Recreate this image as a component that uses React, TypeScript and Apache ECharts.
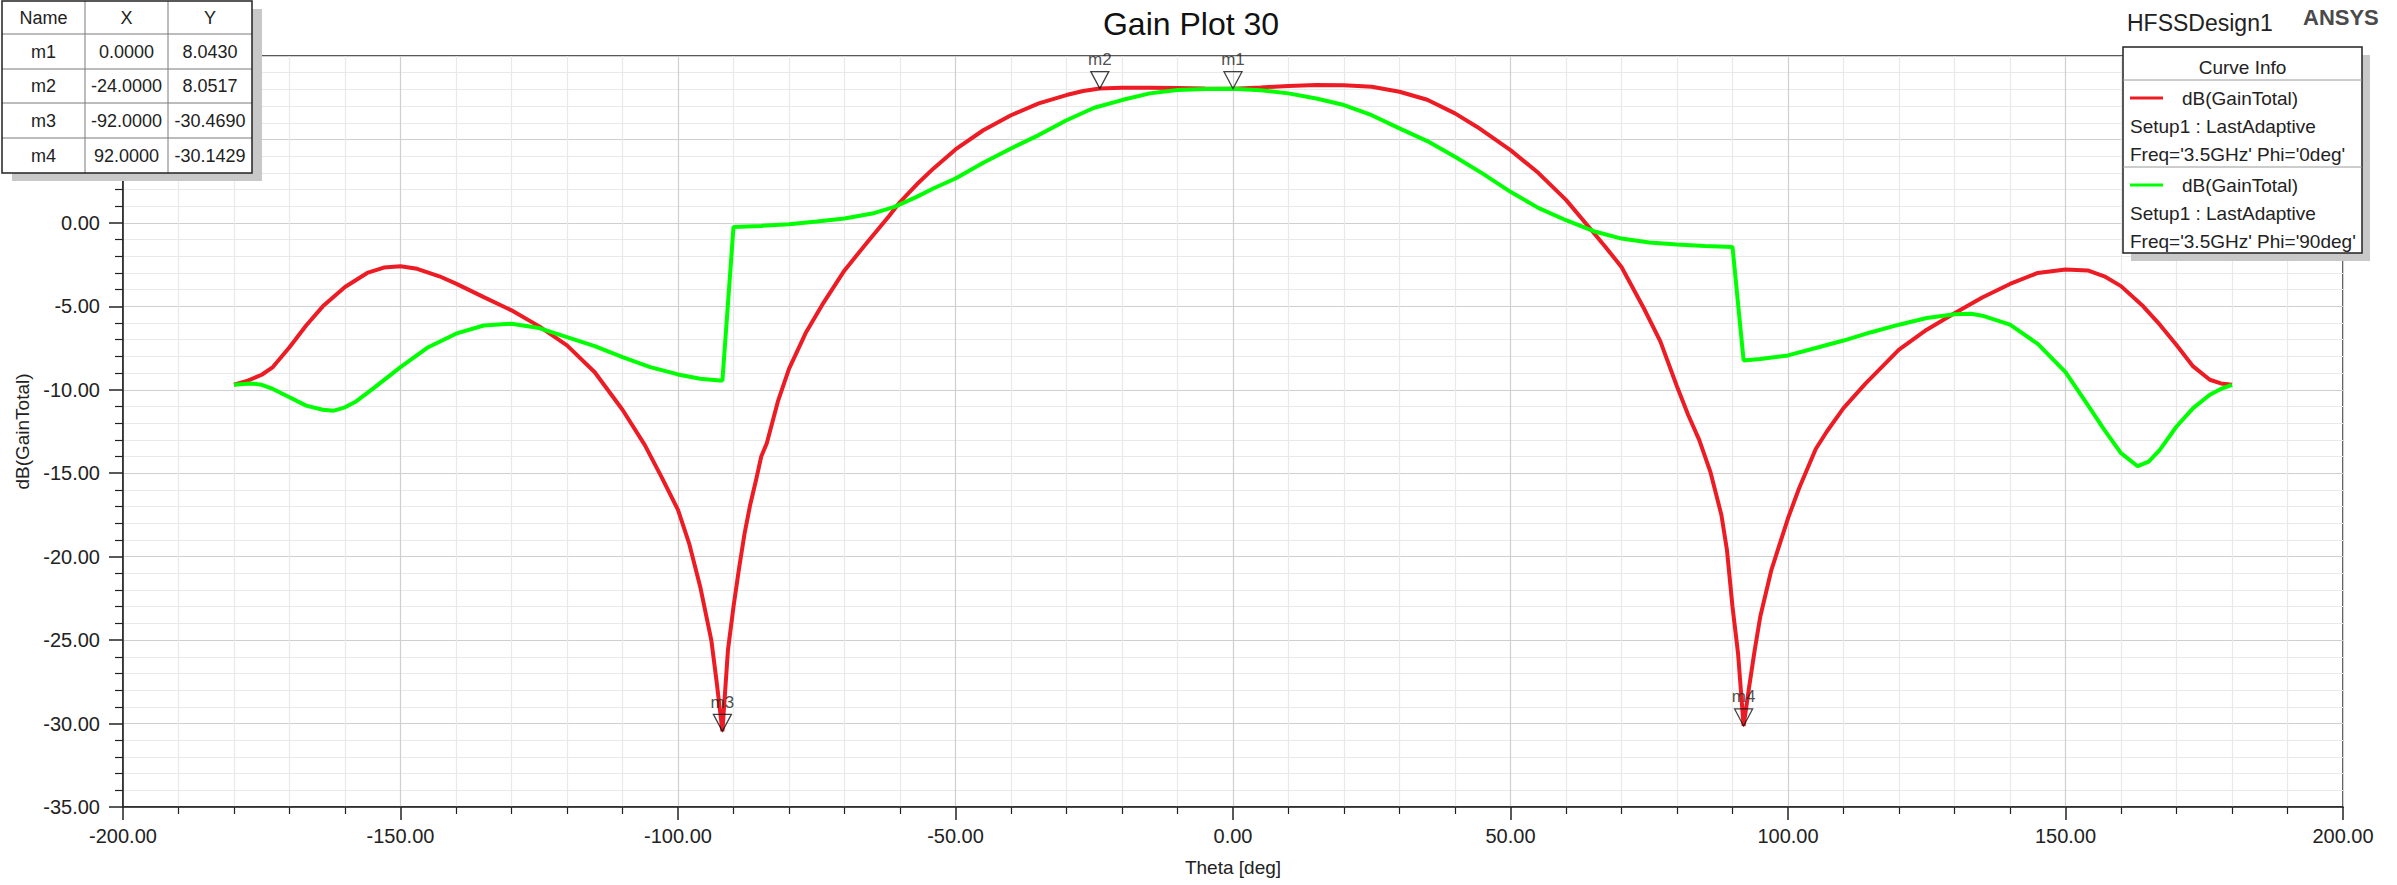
import { useEffect, useRef } from "react";
import * as echarts from "echarts";

const FONT = '"Liberation Sans", Arial, Helvetica, sans-serif';

// Phi = 0deg curve (red)
const phi0Theta = [
  -180, -177.5, -175, -173, -170, -167, -164, -160, -156, -153, -150, -147, -143, -140, -135, -130,
  -125, -120, -115, -110, -106, -103, -100, -98, -96, -94, -93, -92, -91, -90, -89, -88, -87, -86,
  -85, -84, -82, -80, -77, -74, -70, -66, -62, -60, -57, -54, -50, -45, -40, -35, -30, -27, -24,
  -20, -15, -10, -5, 0, 5, 10, 15, 20, 25, 30, 35, 40, 44, 50, 55, 60, 64, 67, 70, 74, 77, 80, 82,
  84, 86, 88, 89, 90, 91, 92, 93, 94, 95, 97, 100, 102, 105, 107, 110, 114, 120, 125, 130, 135,
  140, 145, 150, 154, 157, 160, 164, 167, 170, 173, 176, 178, 180,
];
const phi0Gain = [
  -9.7, -9.45, -9.1, -8.64, -7.45, -6.15, -5.0, -3.84, -3.0, -2.68, -2.6, -2.75, -3.2, -3.64, -4.45,
  -5.24, -6.2, -7.34, -8.95, -11.2, -13.3, -15.2, -17.2, -19.2, -21.8, -25.0, -27.6, -30.469, -25.6,
  -23.0, -20.7, -18.6, -16.9, -15.5, -14.0, -13.2, -10.7, -8.75, -6.6, -4.9, -2.85, -1.2, 0.4, 1.25,
  2.3, 3.25, 4.4, 5.55, 6.45, 7.16, 7.66, 7.9, 8.0517, 8.1, 8.1, 8.08, 8.05, 8.043, 8.12, 8.2, 8.26,
  8.24, 8.16, 7.86, 7.38, 6.56, 5.75, 4.36, 3.0, 1.38, -0.2, -1.4, -2.64, -5.1, -7.1, -9.8, -11.5,
  -13.0, -14.9, -17.5, -19.6, -23.0, -25.8, -30.1429, -27.8, -25.6, -23.6, -20.8, -17.7, -15.9,
  -13.55, -12.5, -11.1, -9.62, -7.59, -6.4, -5.42, -4.47, -3.66, -3.0, -2.79, -2.85, -3.2, -3.79,
  -5.0, -6.1, -7.32, -8.6, -9.4, -9.62, -9.7,
];

// Phi = 90deg curve (green)
const phi90Theta = [
  -180, -177, -175, -173, -170, -167, -164, -162, -160, -158, -155, -150, -145, -140, -135, -130,
  -125, -120, -115, -110, -105, -100, -96, -92.5, -92, -90, -85, -80, -75, -70, -65, -61, -57, -54,
  -50, -45, -40, -35, -30, -25, -20, -15, -10, -5, 0, 5, 10, 15, 20, 25, 30, 35, 40, 45, 50, 55, 60,
  65, 70, 75, 80, 85, 90, 92, 95, 100, 105, 110, 115, 120, 125, 130, 133, 135, 140, 145, 150, 154,
  157, 160, 163, 165, 167, 170, 173, 176, 178, 180,
];
const phi90Gain = [
  -9.7, -9.62, -9.7, -9.95, -10.45, -10.95, -11.2, -11.25, -11.05, -10.7, -9.95, -8.64, -7.45, -6.64,
  -6.15, -6.04, -6.3, -6.84, -7.38, -8.04, -8.64, -9.08, -9.34, -9.45, -9.45, -0.24, -0.18, -0.08,
  0.08, 0.26, 0.56, 0.96, 1.56, 2.06, 2.66, 3.6, 4.46, 5.26, 6.15, 6.9, 7.36, 7.76, 7.96, 8.02, 8.043,
  7.95, 7.76, 7.45, 7.06, 6.45, 5.66, 4.9, 3.96, 2.95, 1.86, 0.9, 0.16, -0.5, -0.94, -1.18, -1.3,
  -1.38, -1.44, -8.24, -8.15, -7.94, -7.5, -7.05, -6.55, -6.1, -5.7, -5.47, -5.45, -5.56, -6.1, -7.25,
  -8.94, -10.9, -12.4, -13.8, -14.58, -14.3, -13.6, -12.2, -11.1, -10.3, -9.95, -9.7,
];

const markerNames = ["m1", "m2", "m3", "m4"];
const markerTheta = [0, -24, -92, 92];
const markerGain = [8.043, 8.0517, -30.469, -30.1429];

const tableHeader = ["Name", "X", "Y"];
const titleText = "Gain Plot 30";
const designText = "HFSSDesign1";
const brandText = "ANSYS";
const curveInfoTitle = "Curve Info";
const curveNames = ["dB(GainTotal)", "dB(GainTotal)"];
const curveSetups = ["Setup1 : LastAdaptive", "Setup1 : LastAdaptive"];
const curveParams = ["Freq='3.5GHz' Phi='0deg'", "Freq='3.5GHz' Phi='90deg'"];
const curveColors = ["#ed1c24", "#00ff00"];

const zip = (a: number[], b: number[]) => a.map((v, i) => [v, b[i]]);

function txt(x: number, y: number, text: string, size: number, align: string, opts: any = {}) {
  return {
    type: "text",
    x,
    y,
    z: 100,
    silent: true,
    style: {
      text,
      font: `${opts.weight || "normal"} ${size}px ${FONT}`,
      fill: opts.fill || "#222",
      align,
      verticalAlign: "middle",
      textAlign: align,
      textVerticalAlign: "middle",
    },
  };
}
function rect(x: number, y: number, w: number, h: number, fill: string, stroke?: string, lw = 1.5) {
  return {
    type: "rect",
    z: 100,
    silent: true,
    shape: { x, y, width: w, height: h },
    style: { fill, stroke: stroke || null, lineWidth: lw },
  };
}
function seg(x1: number, y1: number, x2: number, y2: number, stroke: string, lw: number) {
  return {
    type: "line",
    z: 100,
    silent: true,
    shape: { x1, y1, x2, y2 },
    style: { stroke, lineWidth: lw },
  };
}

export default function App() {
  const ref = useRef<HTMLDivElement>(null);
  useEffect(() => {
    document.body.style.margin = "0";
    document.body.style.overflow = "hidden";
    const chart = echarts.init(ref.current!, null, { renderer: "svg" });

    const graphics: any[] = [];
    graphics.push(txt(1191, 24, titleText, 32, "center", { fill: "#111" }));
    graphics.push(txt(2127, 23, designText, 23, "left", { fill: "#222" }));
    graphics.push(txt(2303, 17, brandText, 22, "left", { fill: "#4a4a4a", weight: "bold" }));

    // marker table
    const colX = [2, 85, 168, 252];
    const rowY = [1, 34, 69, 103, 138, 173];
    graphics.push(rect(12, 9, 250, 172, "#c8c8c8"));
    graphics.push(rect(colX[0], rowY[0], colX[3] - colX[0], rowY[5] - rowY[0], "#ffffff"));
    for (let i = 1; i < 3; i++) graphics.push(seg(colX[i], rowY[0], colX[i], rowY[5], "#7a7a7a", 1));
    for (let j = 1; j < 5; j++) graphics.push(seg(colX[0], rowY[j], colX[3], rowY[j], "#7a7a7a", 1));
    graphics.push(rect(colX[0], rowY[0], colX[3] - colX[0], rowY[5] - rowY[0], "none", "#222", 1.5));
    const cellCenter = (c: number) => (colX[c] + colX[c + 1]) / 2;
    const rowCenter = (r: number) => (rowY[r] + rowY[r + 1]) / 2;
    tableHeader.forEach((h, c) => graphics.push(txt(cellCenter(c), rowCenter(0), h, 18, "center")));
    markerNames.forEach((n, i) => {
      graphics.push(txt(cellCenter(0), rowCenter(i + 1), n, 18, "center"));
      graphics.push(txt(cellCenter(1), rowCenter(i + 1), markerTheta[i].toFixed(4), 18, "center"));
      graphics.push(txt(cellCenter(2), rowCenter(i + 1), markerGain[i].toFixed(4), 18, "center"));
    });

    // curve info box
    const bx = 2123, by = 47, bw = 239, bh = 206;
    graphics.push(rect(bx + 8, by + 8, bw, bh, "#c8c8c8"));
    graphics.push(rect(bx, by, bw, bh, "#ffffff", "#222", 1.5));
    graphics.push(txt(bx + bw / 2, 67, curveInfoTitle, 19, "center"));
    graphics.push(seg(bx, 80, bx + bw, 80, "#9a9a9a", 1));
    graphics.push(seg(bx, 167, bx + bw, 167, "#9a9a9a", 1));
    const blockTop = [98, 185];
    curveNames.forEach((nm, i) => {
      const y0 = blockTop[i];
      graphics.push(seg(2130, y0, 2163, y0, curveColors[i], 3));
      graphics.push(txt(2182, y0, nm, 19, "left"));
      graphics.push(txt(2130, y0 + 28, curveSetups[i], 19, "left"));
      graphics.push(txt(2130, y0 + 56, curveParams[i], 19, "left"));
    });

    const option: any = {
      animation: false,
      backgroundColor: "#ffffff",
      textStyle: { fontFamily: FONT },
      grid: {
        left: 123,
        top: 56,
        width: 2220,
        height: 751,
        show: true,
        borderColor: "#222",
        borderWidth: 1.5,
        containLabel: false,
      },
      xAxis: {
        type: "value",
        min: -200,
        max: 200,
        interval: 50,
        name: "Theta [deg]",
        nameLocation: "middle",
        nameGap: 51,
        nameTextStyle: { fontSize: 19, color: "#222", fontFamily: FONT },
        axisLine: { show: true, onZero: false, lineStyle: { color: "#222", width: 1.5 } },
        axisTick: { show: true, inside: false, length: 13, lineStyle: { color: "#222", width: 1.5 } },
        minorTick: { show: true, splitNumber: 5, length: 7, lineStyle: { color: "#222", width: 1.2 } },
        axisLabel: {
          formatter: (v: number) => v.toFixed(2),
          fontSize: 20,
          color: "#222",
          margin: 19,
          fontFamily: FONT,
        },
        splitLine: { show: true, lineStyle: { color: "#cfcfcf", width: 1.2 } },
        minorSplitLine: { show: true, lineStyle: { color: "#e9e9e9", width: 1.2 } },
      },
      yAxis: {
        type: "value",
        min: -35,
        max: 10,
        interval: 5,
        name: "dB(GainTotal)",
        nameLocation: "middle",
        nameRotate: 90,
        nameGap: 90,
        nameTextStyle: { fontSize: 19, color: "#222", fontFamily: FONT },
        axisLine: { show: true, onZero: false, lineStyle: { color: "#222", width: 1.5 } },
        axisTick: { show: true, inside: false, length: 14, lineStyle: { color: "#222", width: 1.5 } },
        minorTick: { show: true, splitNumber: 5, length: 8, lineStyle: { color: "#222", width: 1.2 } },
        axisLabel: {
          // labels above 0 sit under the marker table in the reference
          formatter: (v: number) => (v > 0 ? "" : v.toFixed(2)),
          fontSize: 20,
          color: "#222",
          margin: 23,
          fontFamily: FONT,
        },
        splitLine: { show: true, lineStyle: { color: "#cfcfcf", width: 1.2 } },
        minorSplitLine: { show: true, lineStyle: { color: "#e9e9e9", width: 1.2 } },
      },
      series: [
        {
          type: "line",
          name: "phi0",
          data: zip(phi0Theta, phi0Gain),
          showSymbol: false,
          symbol: "none",
          lineStyle: { color: curveColors[0], width: 4 },
          z: 3,
          silent: true,
        },
        {
          type: "line",
          name: "phi90",
          data: zip(phi90Theta, phi90Gain),
          showSymbol: false,
          symbol: "none",
          lineStyle: { color: curveColors[1], width: 4 },
          z: 4,
          silent: true,
        },
        {
          type: "scatter",
          name: "markers",
          data: markerTheta.map((t, i) => ({ value: [t, markerGain[i]], name: markerNames[i] })),
          symbol: "path://M0,0 L20,0 L10,19 Z",
          symbolSize: [18, 17],
          symbolOffset: [0, -8.5],
          itemStyle: { color: "rgba(255,255,255,0)", borderColor: "#111", borderWidth: 1.3 },
          label: {
            show: true,
            position: "top",
            distance: 3,
            formatter: (p: any) => p.name,
            fontSize: 17,
            color: "#222",
            fontFamily: FONT,
          },
          z: 10,
          silent: true,
        },
      ],
      graphic: graphics,
    };
    chart.setOption(option);
    return () => chart.dispose();
  }, []);
  return (
    <div
      ref={ref}
      style={{ position: "fixed", left: 0, top: 0, width: 2397, height: 885, background: "#fff" }}
    />
  );
}
